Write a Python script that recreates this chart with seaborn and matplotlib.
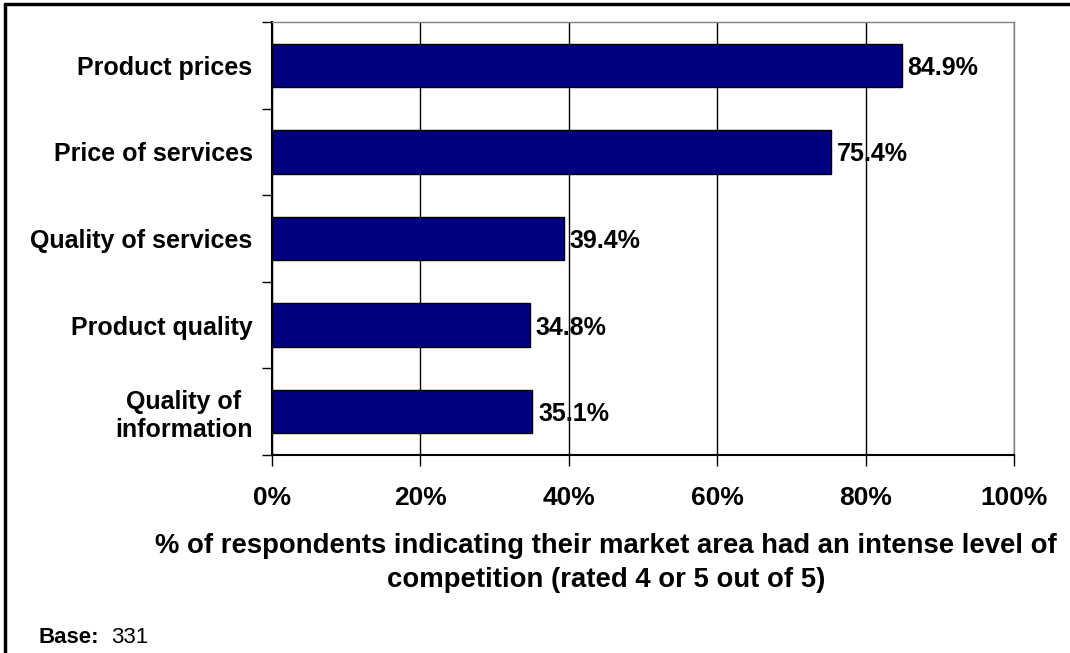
import matplotlib
matplotlib.use("Agg")
import matplotlib.pyplot as plt
from matplotlib.lines import Line2D
import pandas as pd
import seaborn as sns

# Survey results: share of respondents rating competition 4 or 5 out of 5
categories = [
    "Product prices",
    "Price of services",
    "Quality of services",
    "Product quality",
    "Quality of\ninformation",
]
values = [84.9, 75.4, 39.4, 34.8, 35.1]
x_ticks = [0, 20, 40, 60, 80, 100]
x_tick_labels = ["0%", "20%", "40%", "60%", "80%", "100%"]
x_title = ("% of respondents indicating their market area had an intense level of\n"
           "competition (rated 4 or 5 out of 5)")
base_n = 331

sns.set_theme(style="white")
plt.rcParams["font.family"] = ["Liberation Sans", "DejaVu Sans"]

W, H = 1070, 653
fig = plt.figure(figsize=(W / 100, H / 100), dpi=100)
fig.patch.set_facecolor("white")

left, right, top, bottom = 272, 1014, 22, 455
ax = fig.add_axes([left / W, 1 - bottom / H, (right - left) / W, (bottom - top) / H])

df = pd.DataFrame({"category": categories, "value": values})
sns.barplot(data=df, x="value", y="category", orient="h", color="#000080",
            saturation=1, edgecolor="black", linewidth=1, width=0.5, ax=ax)

ax.set_xlim(0, 100)
ax.set_ylim(len(categories) - 0.5, -0.5)
ax.set_xlabel("")
ax.set_ylabel("")

# x axis: percentage ticks with vertical gridlines
ax.set_xticks(x_ticks)
ax.set_xticklabels(x_tick_labels, fontsize=19, fontweight="bold")
ax.xaxis.grid(True, color="black", linewidth=1)
ax.yaxis.grid(False)
ax.set_axisbelow(True)
ax.tick_params(axis="x", which="major", bottom=True, length=8, width=1,
               direction="out", color="black", pad=14, labelcolor="black")

# y axis: tick marks between categories, labels centred on the bars
ax.set_yticks([i - 0.5 for i in range(len(categories) + 1)])
ax.set_yticklabels([])
ax.set_yticks(range(len(categories)), minor=True)
ax.set_yticklabels(categories, minor=True, fontsize=18, fontweight="bold",
                   multialignment="center")
ax.tick_params(axis="y", which="major", left=True, length=7, width=1,
               direction="out", color="black")
ax.tick_params(axis="y", which="minor", left=True, length=0, pad=14,
               labelcolor="black")

for side in ("left", "bottom"):
    ax.spines[side].set_color("black")
    ax.spines[side].set_linewidth(1.5)
for side in ("top", "right"):
    ax.spines[side].set_color("#808080")
    ax.spines[side].set_linewidth(1)

# value labels just past the end of each bar
for i, v in enumerate(values):
    ax.annotate(f"{v:.1f}%", xy=(v, i), xytext=(4, 0), textcoords="offset points",
                ha="left", va="center_baseline", fontsize=18, fontweight="bold",
                color="black")

fig.text(606 / W, 1 - 563 / H, x_title, ha="center", va="center",
         fontsize=19.8, fontweight="bold", linespacing=1.4, color="black")

fig.text(39 / W, 1 - 635 / H, "Base:", ha="left", va="center_baseline",
         fontsize=16, fontweight="bold", color="black")
fig.text(111 / W, 1 - 635 / H, f"{base_n}", ha="left", va="center_baseline",
         fontsize=16, color="black")

# outer frame around the chart
fig.add_artist(Line2D([5 / W, 5 / W], [0, 1 - 4 / H], transform=fig.transFigure,
                      color="black", linewidth=2.5))
fig.add_artist(Line2D([5 / W, 1], [1 - 4 / H, 1 - 4 / H], transform=fig.transFigure,
                      color="black", linewidth=2.5))

fig.savefig("out.png", dpi=100, facecolor="white")
